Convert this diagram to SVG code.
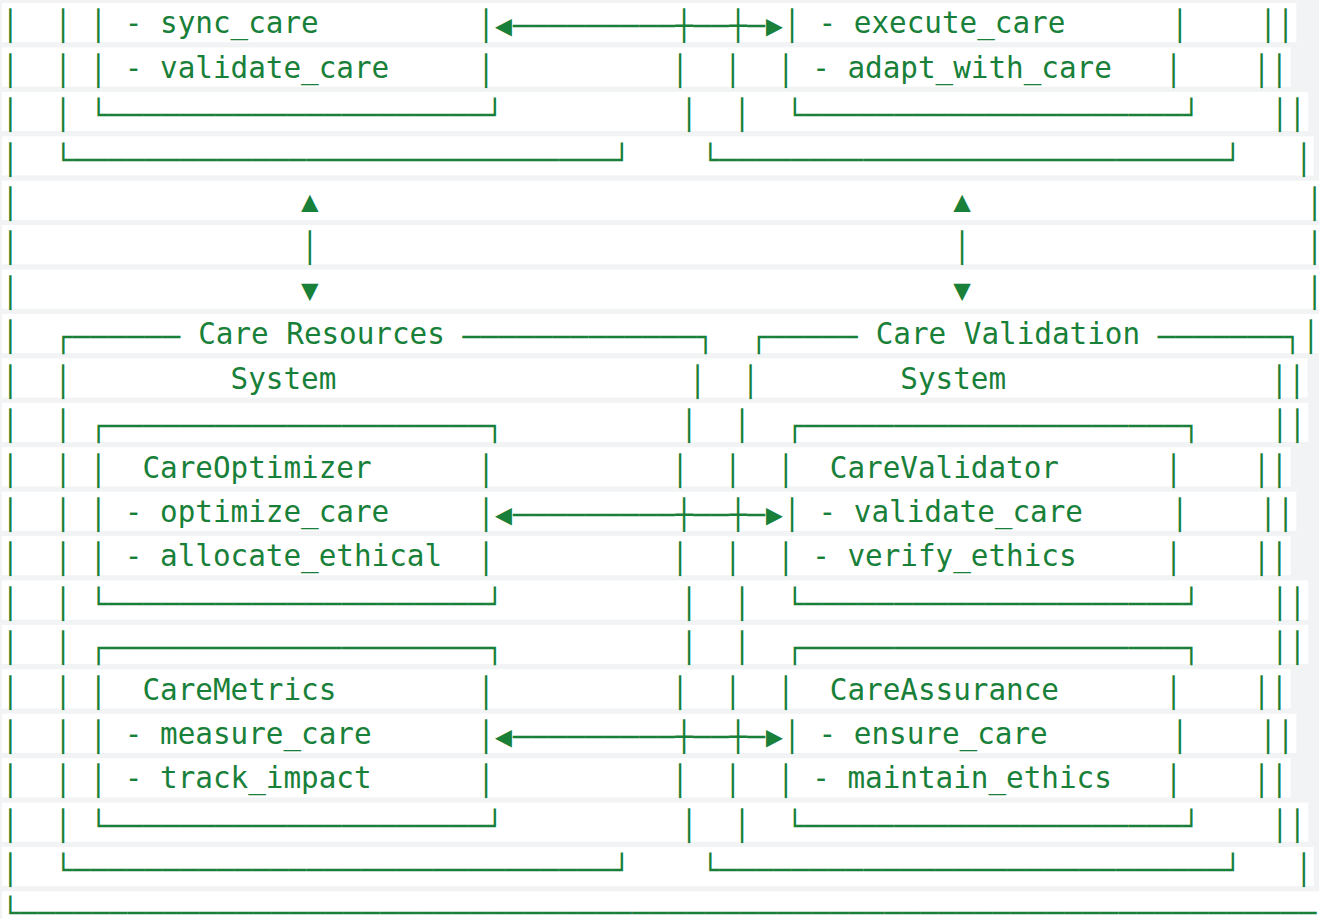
<svg xmlns="http://www.w3.org/2000/svg" width="1319" height="919" viewBox="0 0 1319 919">
<style>
text { font-family: "DejaVu Sans Mono", "Liberation Mono", monospace; font-size: 29.3px; fill: #188038; letter-spacing: -0.015px; white-space: pre; }
.b { letter-spacing: 0.38px; }
.t { baseline-shift: 3px; }
.ah { font-family: "Liberation Mono", "DejaVu Sans Mono", monospace; letter-spacing: 0.44px; }
.last { letter-spacing: -8px; }
.bg { fill: #ffffff; }
</style>
<rect x="0" y="0" width="1319" height="919" fill="#f1f3f4"/>
<g id="line-backgrounds">
<rect class="bg" x="2" y="3" width="1294.4" height="39.2"/>
<rect class="bg" x="2" y="47.42" width="1288.6" height="39.2"/>
<rect class="bg" x="2" y="91.84" width="1306.3" height="39.2"/>
<rect class="bg" x="2" y="136.26" width="1311.6" height="39.2"/>
<rect class="bg" x="2" y="180.68" width="1317" height="39.2"/>
<rect class="bg" x="2" y="225.1" width="1317" height="39.2"/>
<rect class="bg" x="2" y="269.52" width="1317" height="39.2"/>
<rect class="bg" x="2" y="313.94" width="1317" height="39.2"/>
<rect class="bg" x="2" y="358.36" width="1305.5" height="39.2"/>
<rect class="bg" x="2" y="402.78" width="1306.3" height="39.2"/>
<rect class="bg" x="2" y="447.2" width="1288.6" height="39.2"/>
<rect class="bg" x="2" y="491.62" width="1294.4" height="39.2"/>
<rect class="bg" x="2" y="536.04" width="1288.6" height="39.2"/>
<rect class="bg" x="2" y="580.46" width="1306.3" height="39.2"/>
<rect class="bg" x="2" y="624.88" width="1306.3" height="39.2"/>
<rect class="bg" x="2" y="669.3" width="1288.6" height="39.2"/>
<rect class="bg" x="2" y="713.72" width="1294.4" height="39.2"/>
<rect class="bg" x="2" y="758.14" width="1288.6" height="39.2"/>
<rect class="bg" x="2" y="802.56" width="1306.3" height="39.2"/>
<rect class="bg" x="2" y="846.98" width="1311.6" height="39.2"/>
<rect class="bg" x="2" y="891.4" width="1317" height="39.2"/>
</g>
<g id="upper-systems">
<text xml:space="preserve" x="1.5" y="36.3">│  │ │<tspan class="t"> - sync_care</tspan>         │<tspan class="ah">◄</tspan><tspan class="b">─────────┼──┼─</tspan><tspan class="ah">►</tspan>│<tspan class="t"> - execute_care</tspan>      │    ││</text>
<text xml:space="preserve" x="1.5" y="80.72">│  │ │<tspan class="t"> - validate_care</tspan>     │          │  │  │<tspan class="t"> - adapt_with_care</tspan>   │    ││</text>
<text xml:space="preserve" x="1.5" y="125.14">│  │ <tspan class="b">└─────────────────────┘</tspan>          │  │  <tspan class="b">└─────────────────────┘</tspan>    ││</text>
<text xml:space="preserve" x="1.5" y="169.56">│  <tspan class="b">└──────────────────────────────┘</tspan>    <tspan class="b">└────────────────────────────┘</tspan>   │</text>
</g>
<g id="connectors">
<text xml:space="preserve" x="1.5" y="213.98">│                <tspan class="t">▲</tspan>                                    <tspan class="t">▲</tspan>                   <tspan class="last">│</tspan></text>
<text xml:space="preserve" x="1.5" y="258.4">│                │                                    │                   <tspan class="last">│</tspan></text>
<text xml:space="preserve" x="1.5" y="302.82">│                <tspan class="t">▼</tspan>                                    <tspan class="t">▼</tspan>                   <tspan class="last">│</tspan></text>
</g>
<g id="care-systems">
<text xml:space="preserve" x="1.5" y="347.24">│  <tspan class="b">┌──────</tspan><tspan class="t"> Care Resources </tspan><tspan class="b">─────────────┐</tspan>  <tspan class="b">┌─────</tspan><tspan class="t"> Care Validation </tspan><tspan class="b">───────┐</tspan><tspan class="last">│</tspan></text>
<text xml:space="preserve" x="1.5" y="391.66">│  │<tspan class="t">         System</tspan>                    │  │<tspan class="t">        System</tspan>               ││</text>
<text xml:space="preserve" x="1.5" y="436.08">│  │ <tspan class="b">┌─────────────────────┐</tspan>          │  │  <tspan class="b">┌─────────────────────┐</tspan>    ││</text>
<text xml:space="preserve" x="1.5" y="480.5">│  │ │<tspan class="t">  CareOptimizer</tspan>      │          │  │  │<tspan class="t">  CareValidator</tspan>      │    ││</text>
<text xml:space="preserve" x="1.5" y="524.92">│  │ │<tspan class="t"> - optimize_care</tspan>     │<tspan class="ah">◄</tspan><tspan class="b">─────────┼──┼─</tspan><tspan class="ah">►</tspan>│<tspan class="t"> - validate_care</tspan>     │    ││</text>
<text xml:space="preserve" x="1.5" y="569.34">│  │ │<tspan class="t"> - allocate_ethical</tspan>  │          │  │  │<tspan class="t"> - verify_ethics</tspan>     │    ││</text>
<text xml:space="preserve" x="1.5" y="613.76">│  │ <tspan class="b">└─────────────────────┘</tspan>          │  │  <tspan class="b">└─────────────────────┘</tspan>    ││</text>
<text xml:space="preserve" x="1.5" y="658.18">│  │ <tspan class="b">┌─────────────────────┐</tspan>          │  │  <tspan class="b">┌─────────────────────┐</tspan>    ││</text>
<text xml:space="preserve" x="1.5" y="702.6">│  │ │<tspan class="t">  CareMetrics</tspan>        │          │  │  │<tspan class="t">  CareAssurance</tspan>      │    ││</text>
<text xml:space="preserve" x="1.5" y="747.02">│  │ │<tspan class="t"> - measure_care</tspan>      │<tspan class="ah">◄</tspan><tspan class="b">─────────┼──┼─</tspan><tspan class="ah">►</tspan>│<tspan class="t"> - ensure_care</tspan>       │    ││</text>
<text xml:space="preserve" x="1.5" y="791.44">│  │ │<tspan class="t"> - track_impact</tspan>      │          │  │  │<tspan class="t"> - maintain_ethics</tspan>   │    ││</text>
<text xml:space="preserve" x="1.5" y="835.86">│  │ <tspan class="b">└─────────────────────┘</tspan>          │  │  <tspan class="b">└─────────────────────┘</tspan>    ││</text>
<text xml:space="preserve" x="1.5" y="880.28">│  <tspan class="b">└──────────────────────────────┘</tspan>    <tspan class="b">└────────────────────────────┘</tspan>   │</text>
</g>
<g id="outer-frame">
<text xml:space="preserve" x="1.5" y="922.7"><tspan class="b">└────────────────────────────────────────────────────────────────────────</tspan></text>
</g>
</svg>
